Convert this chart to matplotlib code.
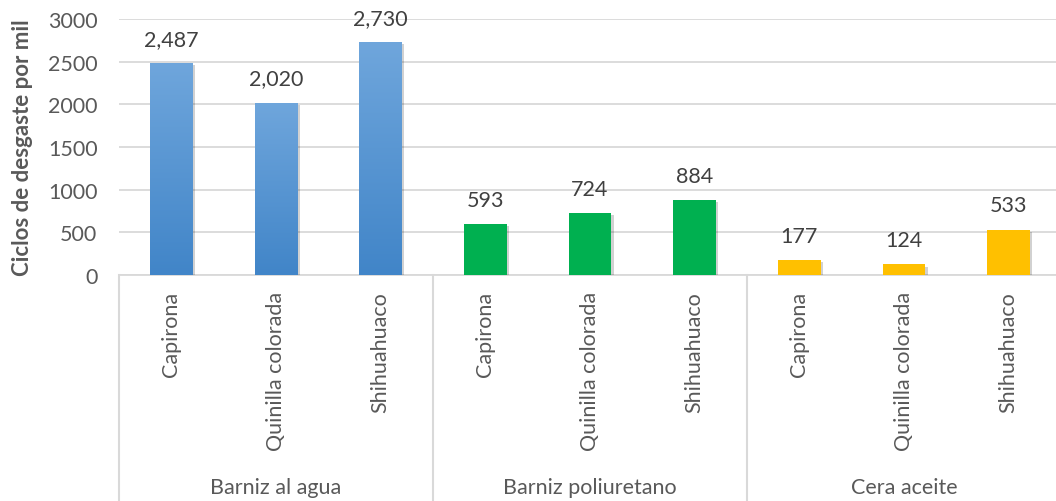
import matplotlib
matplotlib.use("Agg")
import matplotlib.pyplot as plt
import numpy as np
from matplotlib import patheffects as pe
from matplotlib.colors import LinearSegmentedColormap

plt.rcParams['font.family'] = ['Lato', 'DejaVu Sans']

# Data
groups = ["Barniz al agua", "Barniz poliuretano", "Cera aceite"]
woods = ["Capirona", "Quinilla colorada", "Shihuahuaco"]
barniz_agua = [2487, 2020, 2730]
barniz_poliuretano = [593, 724, 884]
cera_aceite = [177, 124, 533]
yticks = [0, 500, 1000, 1500, 2000, 2500, 3000]

series = [barniz_agua, barniz_poliuretano, cera_aceite]
colors = ["#5b9bd5", "#00b050", "#ffc000"]

W, H = 1056, 502
fig = plt.figure(figsize=(W / 100, H / 100), dpi=100)
x0, x1 = 119, 1061
y_top, y_bot = 20, 276
ax = fig.add_axes([x0 / W, (H - y_bot) / H, (x1 - x0) / W, (y_bot - y_top) / H])

n_per = len(woods)
n_tot = n_per * len(groups)

text_col = "#595959"
label_col = "#404040"
grid_col = "#d9d9d9"
fs = 15.5

bar_w = 0.41
blue_cmap = LinearSegmentedColormap.from_list("bluegrad", ["#4185c8", "#6fa6dc"])
shadow = [pe.SimplePatchShadow(offset=(1.5, -1.5), shadow_rgbFace="#000000", alpha=0.18), pe.Normal()]

for gi, (vals, col) in enumerate(zip(series, colors)):
    xs = gi * n_per + np.arange(n_per) + 0.5
    bars = ax.bar(xs, vals, width=bar_w, color=col, zorder=3, linewidth=0)
    for b in bars:
        b.set_path_effects(shadow)
    if gi == 0:
        grad = np.linspace(0, 1, 256).reshape(-1, 1)
        for b, v in zip(bars, vals):
            im = ax.imshow(grad, cmap=blue_cmap, aspect="auto", origin="lower",
                           extent=(b.get_x(), b.get_x() + b.get_width(), 0, v),
                           zorder=3.5, interpolation="bilinear")
            im.set_clip_path(b)
    for xv, v in zip(xs, vals):
        ax.annotate(f"{v:,}", (xv, v), xytext=(0, 13), textcoords="offset points",
                    ha="center", va="baseline", fontsize=fs, color=label_col)

ax.set_xlim(0, n_tot)
ax.set_ylim(0, 3000)
ax.set_yticks(yticks)
ax.set_yticklabels([str(t) for t in yticks], fontsize=fs, color=text_col)
ax.yaxis.grid(True, color=grid_col, linewidth=1.3, zorder=0)
ax.set_axisbelow(True)
ax.tick_params(axis="y", length=0, pad=15.5)
ax.set_xticks([])
for s in ["top", "right", "left"]:
    ax.spines[s].set_visible(False)
ax.spines["bottom"].set_color(grid_col)
ax.spines["bottom"].set_linewidth(1.3)

# Multi-level category axis
trans = ax.get_xaxis_transform()
for gi in range(len(groups) + 1):
    xb = gi * n_per
    ax.plot([xb, xb], [0, -1.0], transform=trans, color=grid_col, lw=1.5, clip_on=False)
for gi, g in enumerate(groups):
    for wi, w in enumerate(woods):
        xv = gi * n_per + wi + 0.5
        ax.text(xv, -16 / 256, w, transform=trans, rotation=90, ha="center", va="top",
                fontsize=fs, color=text_col)
    ax.text(gi * n_per + n_per / 2, -(488 - y_bot) / 256, g, transform=trans,
            ha="center", va="center", fontsize=fs, color=text_col)

fig.text(23 / W, 1 - 148 / H, "Ciclos de desgaste por mil", rotation=90, ha="center",
         va="center", fontsize=16, fontweight="bold", color=text_col)

fig.savefig("out.png", dpi=100)
